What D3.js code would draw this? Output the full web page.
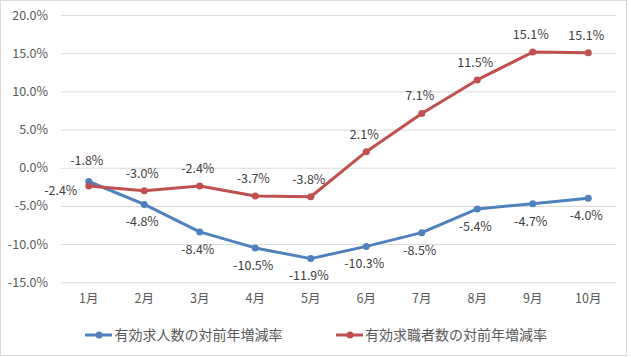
<!DOCTYPE html>
<html><head><meta charset="utf-8">
<script src="https://cdn.jsdelivr.net/npm/d3@7"></script>
<style>
html,body{margin:0;padding:0;background:#fff;}
svg{display:block;}
text{font-family:"Noto Sans CJK JP","Noto Sans",sans-serif;}
</style></head>
<body><svg id="c" width="631" height="357"></svg>
<script>
const months = ["1月","2月","3月","4月","5月","6月","7月","8月","9月","10月"];
const seriesNames = ["有効求人数の対前年増減率","有効求職者数の対前年増減率"];
const jobOffers = [-1.8,-4.8,-8.4,-10.5,-11.9,-10.3,-8.5,-5.4,-4.7,-4.0];
const jobSeekers = [-2.4,-3.0,-2.4,-3.7,-3.8,2.1,7.1,11.5,15.14,15.06];
const yTicks = [20,15,10,5,0,-5,-10,-15];
const colors = ["#4F81BD","#C0504D"];
// label placement: "a" above, "b" below, "l" left
const offersPos = ["a","b","b","b","b","b","b","b","b","b"];
const seekersPos = ["l","a","a","a","a","a","a","a","a","a"];

const svg = d3.select("#c");
svg.append("rect").attr("x",0.5).attr("y",0.5).attr("width",626).attr("height",355)
  .attr("fill","#fff").attr("stroke","#D9D9D9");

const x = d3.scaleBand().domain(months).range([61,616]);
const y = d3.scaleLinear().domain([-15,20]).range([282.3,15]);

const yAxis = d3.axisLeft(y).tickValues(yTicks).tickSize(-(616-61))
  .tickFormat(d=>d.toFixed(1)+"%").tickPadding(13);
const gy = svg.append("g").attr("transform","translate(61,0)").call(yAxis);
gy.select(".domain").remove();
gy.selectAll(".tick line").attr("stroke","#D9D9D9").attr("stroke-width",1);
gy.selectAll(".tick text").attr("fill","#595959").style("font-size","12.5px");

const xAxis = d3.axisBottom(x).tickSize(0).tickPadding(12);
const gx = svg.append("g").attr("transform","translate(0,282.3)").call(xAxis);
gx.select(".domain").remove();
gx.selectAll(".tick text").attr("fill","#595959").style("font-size","12.5px");

const cx = m => x(m) + x.bandwidth()/2;
const line = d3.line().x((d,i)=>cx(months[i])).y(d=>y(d));

[[jobOffers,offersPos],[jobSeekers,seekersPos]].forEach(([vals,pos],si)=>{
  const g = svg.append("g");
  g.append("path").datum(vals).attr("d",line).attr("fill","none")
    .attr("stroke",colors[si]).attr("stroke-width",3).attr("stroke-linejoin","round");
  g.selectAll("circle").data(vals).join("circle")
    .attr("cx",(d,i)=>cx(months[i])).attr("cy",d=>y(d)).attr("r",3.5)
    .attr("fill",colors[si]);
  g.selectAll("text").data(vals).join("text")
    .attr("x",(d,i)=>cx(months[i]) + (pos[i]==="l" ? -28 : -2))
    .attr("y",(d,i)=>y(d) + (pos[i]==="a" ? (si===0?-21:-17.5) : pos[i]==="b" ? 17.5 : 5))
    .attr("dy","0.35em").attr("text-anchor","middle")
    .attr("fill","#404040").style("font-size","12.5px")
    .text(d=>d.toFixed(1)+"%");
});

// legend
const legend = [[85,114.5],[336,365]];
legend.forEach(([lx,tx],i)=>{
  const g = svg.append("g");
  g.append("line").attr("x1",lx).attr("x2",lx+27).attr("y1",335).attr("y2",335)
    .attr("stroke",colors[i]).attr("stroke-width",3);
  g.append("circle").attr("cx",lx+14).attr("cy",335).attr("r",3.5).attr("fill",colors[i]);
  g.append("text").attr("x",tx).attr("y",335).attr("dy","0.35em")
    .attr("fill","#595959").style("font-size","14px").text(seriesNames[i]);
});
</script></body></html>
